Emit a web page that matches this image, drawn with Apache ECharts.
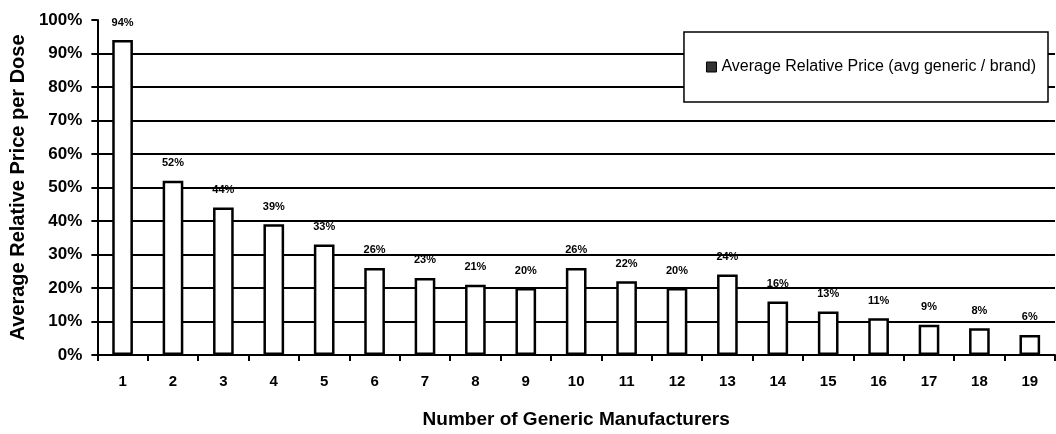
<!DOCTYPE html>
<html>
<head>
<meta charset="utf-8">
<script src="https://cdn.jsdelivr.net/npm/echarts@6/dist/echarts.min.js"></script>
<style>
  html, body { margin: 0; padding: 0; background: #fff; }
  #chart { width: 1056px; height: 434px; }
</style>
</head>
<body>
<div id="chart"></div>
<script>
// 生产商数量
const categories = ['1', '2', '3', '4', '5', '6', '7', '8', '9', '10', '11', '12', '13', '14', '15', '16', '17', '18', '19']
// 平均相对价格 (%)
const relativePrice = [94, 52, 44, 39, 33, 26, 23, 21, 20, 26, 22, 20, 24, 16, 13, 11, 9, 8, 6]
const yTicks = [0, 10, 20, 30, 40, 50, 60, 70, 80, 90, 100]

const chart = echarts.init(document.getElementById('chart'))
const font = 'Liberation Sans, Arial, sans-serif'
const narrow = 'Liberation Sans Narrow, Liberation Sans, Arial, sans-serif'

chart.setOption({
  animation: false,
  textStyle: { fontFamily: font },
  grid: {
    left: 97,
    right: 1,
    top: 20,
    bottom: 75
  },
  legend: {
    data: ['Average Relative Price (avg generic / brand)'],
    right: 8,
    top: 32,
    width: 486,
    height: 75,
    padding: [27, 12, 27, 22],
    backgroundColor: '#fff',
    borderColor: '#000',
    borderWidth: 1.5,
    itemWidth: 10,
    itemHeight: 10,
    icon: 'rect',
    itemGap: 0,
    textStyle: { fontSize: 16, color: '#000', fontFamily: font },
    itemStyle: { color: '#333', borderColor: '#000', borderWidth: 1 }
  },
  xAxis: {
    type: 'category',
    data: categories,
    name: 'Number of Generic Manufacturers',
    nameLocation: 'middle',
    nameGap: 55,
    nameTextStyle: { fontSize: 19, fontWeight: 'bold', color: '#000', fontFamily: font },
    axisLine: { lineStyle: { color: '#000', width: 2 } },
    axisTick: { show: true, length: 6, lineStyle: { color: '#000', width: 2 } },
    axisLabel: { fontSize: 15, fontWeight: 'bold', color: '#000', margin: 19, fontFamily: narrow }
  },
  yAxis: {
    type: 'value',
    min: 0,
    max: 100,
    interval: 10,
    name: 'Average Relative Price per Dose',
    nameLocation: 'middle',
    nameGap: 69,
    nameTextStyle: { fontSize: 20, fontWeight: 'bold', color: '#000', fontFamily: font },
    axisLine: { show: true, lineStyle: { color: '#000', width: 2 } },
    axisTick: { show: true, length: 6, lineStyle: { color: '#000', width: 2 } },
    axisLabel: {
      fontSize: 17,
      fontWeight: 'bold',
      color: '#000',
      margin: 15,
      fontFamily: narrow,
      formatter: v => (yTicks.includes(v) ? v + '%' : '')
    },
    splitLine: { showMaxLine: false, lineStyle: { color: '#000', width: 2 } }
  },
  series: [{
    name: 'Average Relative Price (avg generic / brand)',
    type: 'bar',
    data: relativePrice,
    barWidth: '41%',
    itemStyle: { color: '#fff', borderColor: '#000', borderWidth: 2.5 },
    label: {
      show: true,
      position: 'top',
      distance: 12,
      formatter: p => p.value + '%',
      fontSize: 11,
      fontWeight: 'bold',
      color: '#000'
    }
  }]
})
</script>
</body>
</html>
